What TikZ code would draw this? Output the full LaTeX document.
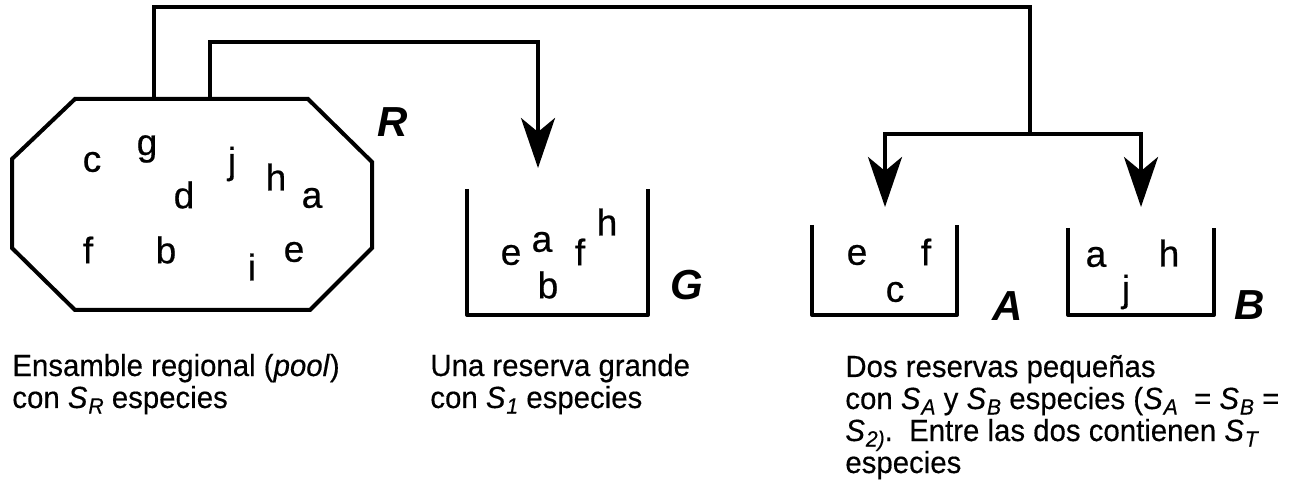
\documentclass[tikz,border=0pt]{standalone}
\usepackage{fontspec}
\setmainfont{Liberation Sans}[FakeStretch=0.96,FakeBold=0.4]
\newfontfamily\lettfont{Liberation Sans}[FakeBold=0.6]
\newfontfamily\bigfont{Liberation Sans Bold Italic}
\usetikzlibrary{arrows.meta}
\newcommand\Sx[1]{\textit{S}\kern0.03em\raisebox{-0.18em}{\fontsize{11}{11}\selectfont\textit{#1}}}
\begin{document}
\begin{tikzpicture}[x=0.5pt,y=-0.5pt,
  thickline/.style={line width=2pt},
  conn/.style={line width=2pt,-{Stealth[length=25pt,width=17pt,inset=7pt]}},
  sp/.style={font=\lettfont\fontsize{18.5}{20}\selectfont, inner sep=0pt},
  big/.style={font=\bigfont\fontsize{21}{22}\selectfont, inner sep=0pt},
  lbl/.style={font=\fontsize{15.3}{16}\selectfont, inner sep=0pt, anchor=base west}]
\useasboundingbox (0,0) rectangle (1296,486);
% regional pool octagon
\draw[thickline] (75,99) -- (308,99) -- (372,162) -- (372,248) -- (310,310) -- (75,310) -- (12,248) -- (12,159) -- cycle;
\coordinate (Rout) at (154,99);
\coordinate (Rin) at (210,99);
% reserves
\draw[thickline, line join=round] (467,189) -- (467,315) -- (648,315) -- (648,189);
\draw[thickline, line join=round] (812,225) -- (812,315) -- (957,315) -- (957,225);
\draw[thickline, line join=round] (1068,228) -- (1068,315) -- (1214,315) -- (1214,228);
\coordinate (Gtip) at (538,168);
\coordinate (Atip) at (885,207);
\coordinate (Btip) at (1141,207);
\coordinate (split) at (1030,134);
% connectors
\draw[conn] (Rin) -- ++(0,-57) -| (Gtip);
\draw[thickline] (Rout) -- ++(0,-92) -| (split);
\draw[conn] (split) -| (Atip);
\draw[conn] (split) -| (Btip);
% letters in pool
\node[sp] (rc) at (92,162) {c};
\node[sp] (rg) at (147,149) {g};
\node[sp] (rj) at (232,164) {j};
\node[sp] (rd) at (184,195) {d};
\node[sp] (rh) at (276,177) {h};
\node[sp] (ra) at (312,198) {a};
\node[sp] (rf) at (88,250) {f};
\node[sp] (rb) at (166,250) {b};
\node[sp] (ri) at (252,267) {i};
\node[sp] (re) at (294,252) {e};
% letters in G
\node[sp] (ge) at (511,255) {e};
\node[sp] (ga) at (542,242) {a};
\node[sp] (gf) at (580,252) {f};
\node[sp] (gh) at (607,222) {h};
\node[sp] (gb) at (548,285) {b};
% letters in A
\node[sp] (ae) at (857,255) {e};
\node[sp] (af) at (926,252) {f};
\node[sp] (ac) at (895,292) {c};
% letters in B
\node[sp] (ba) at (1096,257) {a};
\node[sp] (bh) at (1169,253) {h};
\node[sp] (bj) at (1126,292) {j};
% big labels
\node[big] (R) at (393,122) {R};
\node[big] (G) at (687,285) {G};
\node[big] (A) at (1008,306) {A};
\node[big] (B) at (1250,305) {B};
% captions
\node[lbl] (c1a) at (12,376) {Ensamble regional (\textit{pool})};
\node[lbl] (c1b) at (12,408) {con \Sx{R} especies};
\node[lbl] (c2a) at (430,376) {Una reserva grande};
\node[lbl] (c2b) at (430,408) {con \Sx{1} especies};
\node[lbl] (c3a) at (845,377) {Dos reservas pequeñas};
\node[lbl] (c3b) at (845,409) {con \Sx{A} y \Sx{B} especies (\Sx{A}\ \ = \Sx{B} =};
\node[lbl] (c3c) at (845,441) {\Sx{2)}.\ \ Entre las dos contienen \Sx{T}};
\node[lbl] (c3d) at (845,473) {especies};
\end{tikzpicture}
\end{document}
